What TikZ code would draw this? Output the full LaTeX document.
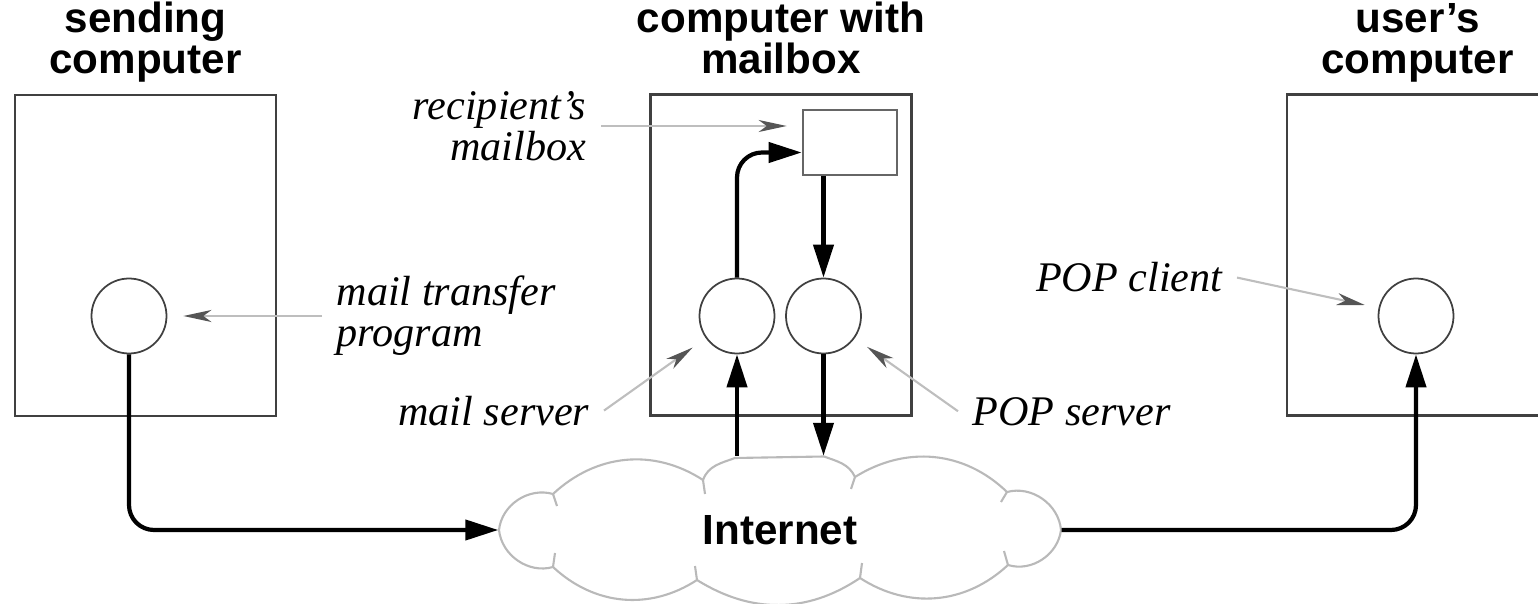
\documentclass[tikz,border=0pt]{standalone}
\usepackage{fontspec}
\setmainfont{Liberation Serif}
\setsansfont{Liberation Sans}
\usetikzlibrary{arrows.meta, positioning}
\definecolor{hostgray}{RGB}{64,64,64}
\definecolor{tagline}{RGB}{190,190,190}
\definecolor{taghead}{RGB}{85,85,85}
\definecolor{cloudgray}{RGB}{185,185,185}

\begin{document}
\begin{tikzpicture}[
  host/.style={rectangle, draw=hostgray, line width=0.75pt,
               minimum width=2.61cm, minimum height=3.21cm},
  proc/.style={circle, draw=hostgray, line width=0.5pt, minimum size=0.75cm, inner sep=0pt},
  title/.style={font=\sffamily\bfseries\fontsize{12}{11.7}\selectfont, align=center,
                inner sep=0pt, text depth=0pt},
  tag/.style={font=\itshape\fontsize{12}{11.7}\selectfont, inner sep=0.14cm},
  flow/.style={-{Triangle[length=0.33cm, width=0.2cm]}, line width=1.2pt},
  pointer/.style={-{Stealth[length=0.28cm, width=0.12cm, inset=0.08cm, color=taghead]},
                  draw=tagline, line width=0.6pt},
  puffs/.style={draw=cloudgray, line width=0.6pt},
  node distance=0.19cm
]
\useasboundingbox (0,0) rectangle (15.38,6.03);
\clip (0,0) rectangle (15.38,6.03);

% hosts and their headings
\node[host] (sender) at (1.455,3.475) {};
\node[host] (mailhost) at (7.81,3.48) {};
\node[host] (userpc) at (14.175,3.48) {};
\node[title, above=of sender] (sendertitle) {sending\\computer};
\node[title, above=of mailhost] (mailhosttitle) {computer with\\mailbox};
\node[title, above=of userpc] (userpctitle) {user's\\computer};

% programs
\node[proc] (mta) at (1.29,2.87) {};
\node[proc] (smtpd) at (7.37,2.87) {};
\node[proc] (popd) at (8.235,2.87) {};
\node[proc] (popc) at (14.16,2.87) {};
\node[rectangle, draw=hostgray!80, line width=0.75pt, minimum width=0.94cm,
      minimum height=0.65cm] (mbox) at (8.50,4.605) {};

% the network: an empty box for the anchors, puffs drawn round it
\node[minimum width=5.62cm, minimum height=1.47cm, inner sep=0pt,
      font=\sffamily\bfseries\fontsize{12}{11.7}\selectfont] (net) at (7.80,0.73) {Internet};
\begin{scope}[shift={(net.center)}]
  \draw[puffs] (-2.81,0) to[out=84,in=164] (-2.27,0.36)
    to[out=43,in=147] (-0.77,0.50)
    to[out=70,in=200] (-0.45,0.72) -- (0.44,0.735)
    to[out=-20,in=115] (0.75,0.53)
    to[out=32,in=136] (2.27,0.38)
    to[out=15,in=95] (2.81,0)
    to[out=263,in=343] (2.28,-0.35)
    to[out=223,in=327] (0.80,-0.48)
    to[out=214,in=328] (-0.83,-0.50)
    to[out=213,in=317] (-2.27,-0.37)
    to[out=196,in=276] cycle;
  % inner ends of the puffs
  \draw[puffs] (-2.27,0.36) -- ++(0.04,-0.12);
  \draw[puffs] (-0.77,0.50) -- ++(0.02,-0.14);
  \draw[puffs] (0.75,0.53) -- ++(-0.04,-0.12);
  \draw[puffs] (2.27,0.38) -- ++(-0.06,-0.10);
  \draw[puffs] (2.28,-0.35) -- ++(-0.04,0.14);
  \draw[puffs] (0.80,-0.48) -- ++(0.02,0.15);
  \draw[puffs] (-0.83,-0.50) -- ++(-0.02,0.14);
  \draw[puffs] (-2.27,-0.37) -- ++(0.02,0.14);
\end{scope}

% labels
\node[tag, anchor=west, align=left] (mtatag) at (3.22,2.87) {mail transfer\\program};
\node[tag, anchor=east, align=right] (mboxtag) at (6.01,4.77) {recipient's\\mailbox};
\node[tag, anchor=base east] (smtpdtag) at (6.04,1.78) {mail server};
\node[tag, anchor=base west] (popdtag) at (9.58,1.78) {POP server};
\node[tag, anchor=base east] (popctag) at (12.37,3.11) {POP client};

% mail path
\draw[flow, rounded corners=0.25cm] (mta.south) |- (net.west);
\draw[flow] (smtpd.south |- net.north) -- (smtpd.south);
\draw[flow, rounded corners=0.25cm] (smtpd.north) |- ([yshift=-0.1cm]mbox.west);
\draw[flow] (popd.north |- mbox.south) -- (popd.north);
\draw[flow] (popd.south) -- (popd.south |- net.north);
\draw[flow, rounded corners=0.25cm] (net.east) -| (popc.south);

% pointers from the labels
\draw[pointer, shorten >=0.16cm] (mtatag.west) -- (mta);
\draw[pointer, shorten >=0.15cm] (mboxtag.east) -- (mboxtag.east -| mbox.west);
\draw[pointer, shorten >=0.16cm] (smtpdtag.east) -- (smtpd);
\draw[pointer, shorten >=0.15cm] (popdtag.west) -- (popd);
\draw[pointer, shorten >=0.14cm] (popctag.east) -- (popc);
\end{tikzpicture}
\end{document}
